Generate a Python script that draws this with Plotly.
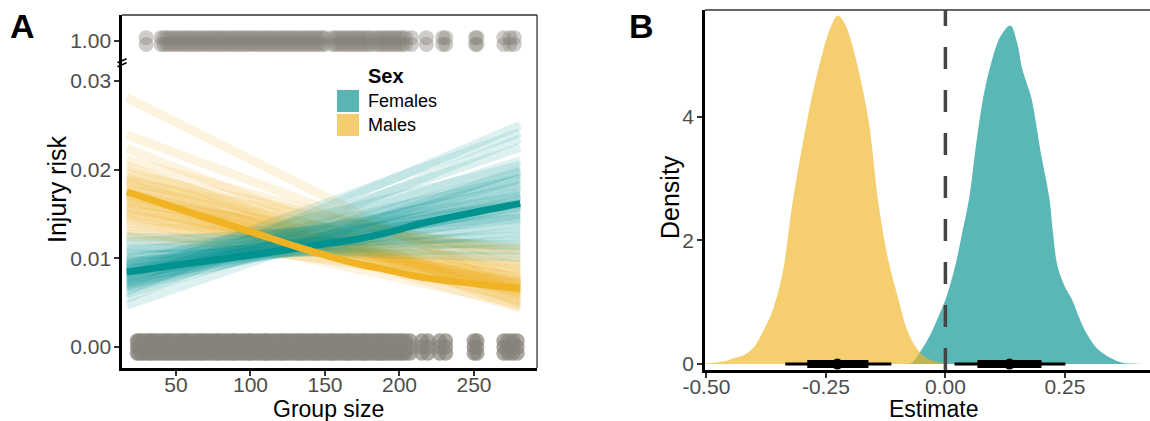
import plotly.graph_objects as go

# ---------------- DATA ----------------
# Panel A: observed group sizes of individuals (injured = 1, not injured = 0)
injured_group_size = [30, 40, 42, 44, 46, 48, 50, 52, 54, 56, 58, 60, 62, 64, 66, 68, 70, 72, 74,
                      76, 78, 80, 82, 84, 86, 88, 90, 92, 94, 96, 98, 100, 102, 104, 106, 108,
                      110, 112, 114, 116, 118, 120, 122, 124, 126, 128, 130, 132, 134, 136, 138,
                      140, 142, 144, 146, 148, 150, 155, 157, 159, 161, 163, 165, 167, 169, 171,
                      173, 175, 177, 179, 181, 184, 186, 188, 190, 192, 194, 196, 198, 200, 202,
                      204, 208, 218, 229, 231, 251, 252, 270, 274, 277]
uninjured_group_size = [24, 25, 27, 29, 31, 33, 34, 36, 38, 40, 42, 44, 45, 47, 49, 51, 53, 55,
                        56, 58, 60, 62, 64, 66, 67, 69, 71, 73, 75, 77, 78, 80, 82, 84, 86, 88,
                        89, 91, 93, 95, 97, 99, 100, 102, 104, 106, 108, 110, 111, 113, 115,
                        117, 119, 121, 122, 124, 126, 128, 130, 132, 133, 135, 137, 139, 141,
                        143, 144, 146, 148, 150, 152, 154, 155, 157, 159, 161, 163, 165, 166,
                        168, 170, 172, 174, 176, 177, 179, 181, 183, 185, 187, 188, 190, 192,
                        194, 196, 198, 200, 202, 204, 207, 215, 219, 227, 231, 250, 252, 270,
                        273, 276, 279]

# Posterior mean fitted injury risk
mean_group_size = [17, 57, 102, 133, 169, 192, 214, 236, 281]
female_mean_risk = [0.00846, 0.0094, 0.0104, 0.0112, 0.0121, 0.0129, 0.0139, 0.0147, 0.0162]
male_mean_risk = [0.0175, 0.0153, 0.0129, 0.0112, 0.0095, 0.0087, 0.0079, 0.0074, 0.0066]

# Posterior draws: risk at smallest and largest group size
draw_group_size = [17, 281]
female_draw_start = [0.0047, 0.0055, 0.0060, 0.0063, 0.0066, 0.0069, 0.0071, 0.0073, 0.0075,
                     0.0077, 0.0079, 0.0081, 0.0083, 0.0085, 0.0087, 0.0089, 0.0091, 0.0093,
                     0.0095, 0.0097, 0.0099, 0.0101, 0.0104, 0.0107, 0.0110, 0.0113, 0.0118,
                     0.0124, 0.0080, 0.0090, 0.0072, 0.0084, 0.0094, 0.0078, 0.0068, 0.0088]
female_draw_end = [0.0200, 0.0235, 0.0190, 0.0250, 0.0175, 0.0210, 0.0160, 0.0185, 0.0225,
                   0.0150, 0.0170, 0.0195, 0.0140, 0.0165, 0.0180, 0.0130, 0.0155, 0.0205,
                   0.0145, 0.0120, 0.0170, 0.0135, 0.0110, 0.0160, 0.0125, 0.0101, 0.0145,
                   0.0115, 0.0242, 0.0190, 0.0172, 0.0158, 0.0150, 0.0182, 0.0198, 0.0162]
male_draw_start = [0.0281, 0.0239, 0.0224, 0.0211, 0.0205, 0.0200, 0.0196, 0.0192, 0.0188,
                   0.0184, 0.0180, 0.0177, 0.0174, 0.0171, 0.0168, 0.0165, 0.0162, 0.0159,
                   0.0156, 0.0153, 0.0150, 0.0147, 0.0144, 0.0140, 0.0136, 0.0132, 0.0128,
                   0.0124, 0.0186, 0.0170, 0.0178, 0.0163, 0.0158, 0.0190, 0.0149, 0.0173]
male_draw_end = [0.0060, 0.0075, 0.0050, 0.0090, 0.0045, 0.0070, 0.0100, 0.0058, 0.0082,
                 0.0065, 0.0052, 0.0095, 0.0072, 0.0060, 0.0085, 0.0068, 0.0110, 0.0055,
                 0.0078, 0.0063, 0.0092, 0.0070, 0.0048, 0.0080, 0.0113, 0.0065, 0.0088,
                 0.0075, 0.0105, 0.0044, 0.0062, 0.0071, 0.0066, 0.0057, 0.0074, 0.0069]

risk_tick_vals = [0.00, 0.01, 0.02, 0.03]
risk_tick_text = ["0.00", "0.01", "0.02", "0.03", "1.00"]
group_ticks = [50, 100, 150, 200, 250]

# Panel B: posterior densities of the group-size effect
male_est = [-0.52, -0.50, -0.46, -0.44, -0.42, -0.40, -0.38, -0.36, -0.34, -0.32, -0.30, -0.28,
            -0.26, -0.24, -0.225, -0.21, -0.20, -0.18, -0.16, -0.14, -0.12, -0.10, -0.08,
            -0.06, -0.04, -0.02, 0.00, 0.02]
male_density = [0.0, 0.01, 0.05, 0.10, 0.15, 0.28, 0.55, 0.90, 1.50, 2.60, 3.50, 4.30, 4.95,
                5.45, 5.64, 5.50, 5.30, 4.70, 3.90, 2.60, 1.70, 1.10, 0.55, 0.25, 0.10, 0.04,
                0.01, 0.0]
female_est = [-0.08, -0.07, -0.05, -0.03, -0.01, 0.00, 0.02, 0.035, 0.05, 0.065, 0.08, 0.095,
              0.115, 0.136, 0.15, 0.16, 0.17, 0.18, 0.20, 0.218, 0.225, 0.235, 0.25, 0.265,
              0.28, 0.295, 0.32, 0.35, 0.37, 0.40, 0.44]
female_density = [0.0, 0.02, 0.23, 0.50, 0.85, 1.04, 1.57, 2.12, 2.70, 3.60, 4.35, 4.85, 5.30,
                  5.48, 5.20, 4.80, 4.55, 4.30, 3.40, 2.66, 2.12, 1.57, 1.25, 1.04, 0.75, 0.50,
                  0.23, 0.08, 0.02, 0.005, 0.0]

male_interval_95 = [-0.335, -0.113]
male_interval_66 = [-0.289, -0.161]
male_median = -0.226
female_interval_95 = [0.019, 0.251]
female_interval_66 = [0.067, 0.201]
female_median = 0.134

est_tick_vals = [-0.50, -0.25, 0.00, 0.25]
est_tick_text = ["-0.50", "-0.25", "0.00", "0.25"]
density_ticks = [0, 2, 4]

# ---------------- STYLE ----------------
FONT = "Liberation Sans, Arial, sans-serif"
TEAL = "rgb(0,146,143)"
GOLD = "rgb(240,179,35)"
TEAL_DRAW = "rgba(0,146,143,0.13)"
GOLD_DRAW = "rgba(240,179,35,0.14)"
TEAL_FILL = "rgba(0,146,143,0.65)"
GOLD_FILL = "rgba(240,179,35,0.65)"
POINT = "rgb(136,131,122)"
INJURED_Y = 0.0345          # display position of risk = 1 after the axis break
JIT = 0.0007                # vertical display jitter for points

fig = go.Figure()

# --- Panel A points ---
for off in (-JIT * 0.55, JIT * 0.55):
    fig.add_trace(go.Scatter(x=injured_group_size, y=[INJURED_Y + off] * len(injured_group_size),
                             mode="markers", xaxis="x", yaxis="y",
                             marker=dict(size=15, color=POINT, opacity=0.4, line=dict(width=0)),
                             showlegend=False, hoverinfo="skip"))
for off in (-JIT, 0.0, JIT):
    fig.add_trace(go.Scatter(x=uninjured_group_size, y=[off] * len(uninjured_group_size),
                             mode="markers", xaxis="x", yaxis="y",
                             marker=dict(size=15, color=POINT, opacity=0.7, line=dict(width=0)),
                             showlegend=False, hoverinfo="skip"))

# --- Panel A posterior draws ---
for s, e in zip(male_draw_start, male_draw_end):
    fig.add_trace(go.Scatter(x=draw_group_size, y=[s, e], mode="lines", xaxis="x", yaxis="y",
                             line=dict(color=GOLD_DRAW, width=9), showlegend=False,
                             hoverinfo="skip"))
for s, e in zip(female_draw_start, female_draw_end):
    fig.add_trace(go.Scatter(x=draw_group_size, y=[s, e], mode="lines", xaxis="x", yaxis="y",
                             line=dict(color=TEAL_DRAW, width=9), showlegend=False,
                             hoverinfo="skip"))

fig.add_trace(go.Scatter(x=mean_group_size, y=female_mean_risk, mode="lines", xaxis="x",
                         yaxis="y", line=dict(color=TEAL, width=7, shape="spline"),
                         showlegend=False))
fig.add_trace(go.Scatter(x=mean_group_size, y=male_mean_risk, mode="lines", xaxis="x",
                         yaxis="y", line=dict(color=GOLD, width=7, shape="spline"),
                         showlegend=False))

# --- Panel B densities ---
fig.add_trace(go.Scatter(x=female_est, y=female_density, mode="lines", fill="tozeroy",
                         fillcolor=TEAL_FILL, line=dict(width=0, shape="spline"),
                         xaxis="x2", yaxis="y2", showlegend=False))
fig.add_trace(go.Scatter(x=male_est, y=male_density, mode="lines", fill="tozeroy",
                         fillcolor=GOLD_FILL, line=dict(width=0, shape="spline"),
                         xaxis="x2", yaxis="y2", showlegend=False))

for i95, i66, med in ((male_interval_95, male_interval_66, male_median),
                      (female_interval_95, female_interval_66, female_median)):
    fig.add_trace(go.Scatter(x=i95, y=[0, 0], mode="lines", line=dict(color="black", width=3),
                             xaxis="x2", yaxis="y2", showlegend=False))
    fig.add_trace(go.Scatter(x=i66, y=[0, 0], mode="lines", line=dict(color="black", width=8),
                             xaxis="x2", yaxis="y2", showlegend=False))
    fig.add_trace(go.Scatter(x=[med], y=[0], mode="markers",
                             marker=dict(color="black", size=11), xaxis="x2", yaxis="y2",
                             showlegend=False))

axis_common = dict(showline=True, linecolor="black", linewidth=2.5, ticks="outside", ticklen=5,
                   tickwidth=1.5, tickcolor="#333333", showgrid=False, zeroline=False,
                   automargin=False,
                   tickfont=dict(family=FONT, size=21, color="#4d4d4d"))

fig.update_layout(
    width=1150, height=421, autosize=False,
    margin=dict(l=0, r=0, t=0, b=0, pad=0, autoexpand=False),
    paper_bgcolor="white", plot_bgcolor="white", showlegend=False,
    font=dict(family=FONT, color="black"),
    xaxis=dict(domain=[0.1061, 0.467], range=[13.8, 292.3], anchor="y",
               tickvals=group_ticks, ticklabelstandoff=-9, **axis_common),
    yaxis=dict(domain=[0.1259, 0.9644], range=[-0.00237, 0.03744], anchor="x",
               tickvals=risk_tick_vals + [INJURED_Y], ticktext=risk_tick_text,
               ticklabelstandoff=-1, **axis_common),
    xaxis2=dict(domain=[0.613, 1.0], range=[-0.503, 0.428], anchor="y2",
                tickvals=est_tick_vals, ticktext=est_tick_text, ticklabelstandoff=-9,
                **axis_common),
    yaxis2=dict(domain=[0.1211, 0.9762], range=[-0.097, 5.73], anchor="x2",
                tickvals=density_ticks, ticklabelstandoff=-1, **axis_common),
)

shapes = [
    # panel A frame (top & right)
    dict(type="line", xref="x domain", yref="y domain", x0=0, x1=1, y0=1, y1=1,
         line=dict(color="#333333", width=1.3)),
    dict(type="line", xref="x domain", yref="y domain", x0=1, x1=1, y0=0, y1=1,
         line=dict(color="#333333", width=1.3)),
    # panel B top frame
    dict(type="line", xref="x2 domain", yref="y2 domain", x0=0, x1=1, y0=1, y1=1,
         line=dict(color="#333333", width=1.3)),
    # axis break marks
    dict(type="line", xref="x domain", yref="y", x0=-0.011, x1=0.011, y0=0.03205, y1=0.03250,
         line=dict(color="black", width=1.5)),
    dict(type="line", xref="x domain", yref="y", x0=-0.011, x1=0.011, y0=0.03160, y1=0.03205,
         line=dict(color="black", width=1.5)),
    # zero reference
    dict(type="line", xref="x2", yref="y2 domain", x0=0, x1=0, y0=0, y1=1,
         line=dict(color="#444444", width=3.5, dash="22px,21px")),
    # legend keys
    dict(type="rect", xref="paper", yref="paper", x0=0.2930, x1=0.3122, y0=0.7340, y1=0.7862,
         fillcolor="#5ab4b3", line=dict(width=0)),
    dict(type="rect", xref="paper", yref="paper", x0=0.2930, x1=0.3122, y0=0.6770, y1=0.7292,
         fillcolor="#f3cd6e", line=dict(width=0)),
]
fig.update_layout(shapes=shapes)

ann = [
    dict(text="<b>A</b>", x=22 / 1150, y=1 - 26 / 421, size=34),
    dict(text="<b>B</b>", x=641 / 1150, y=1 - 26 / 421, size=34),
    dict(text="Group size", x=328 / 1150, y=1 - 409 / 421, size=23),
    dict(text="Estimate", x=933 / 1150, y=1 - 409 / 421, size=23),
]
annotations = [dict(text=a["text"], x=a["x"], y=a["y"], xref="paper", yref="paper",
                    showarrow=False, xanchor="center", yanchor="middle",
                    font=dict(family=FONT, size=a["size"], color="black")) for a in ann]
annotations += [
    dict(text="Injury risk", x=57 / 1150, y=1 - 190 / 421, xref="paper", yref="paper",
         showarrow=False, textangle=-90, xanchor="center", yanchor="middle",
         font=dict(family=FONT, size=25, color="black")),
    dict(text="Density", x=670 / 1150, y=1 - 197 / 421, xref="paper", yref="paper",
         showarrow=False, textangle=-90, xanchor="center", yanchor="middle",
         font=dict(family=FONT, size=25, color="black")),
    dict(text="<b>Sex</b>", x=366 / 1150, y=1 - 76 / 421, xref="paper", yref="paper",
         showarrow=False, xanchor="left", yanchor="middle",
         font=dict(family=FONT, size=20, color="black")),
    dict(text="Females", x=366 / 1150, y=1 - 101 / 421, xref="paper", yref="paper",
         showarrow=False, xanchor="left", yanchor="middle",
         font=dict(family=FONT, size=18, color="black")),
    dict(text="Males", x=366 / 1150, y=1 - 125 / 421, xref="paper", yref="paper",
         showarrow=False, xanchor="left", yanchor="middle",
         font=dict(family=FONT, size=18, color="black")),
]
fig.update_layout(annotations=annotations)

fig.write_html("out.html", config={"displayModeBar": False},
               post_script="document.body.style.margin='0px';")
